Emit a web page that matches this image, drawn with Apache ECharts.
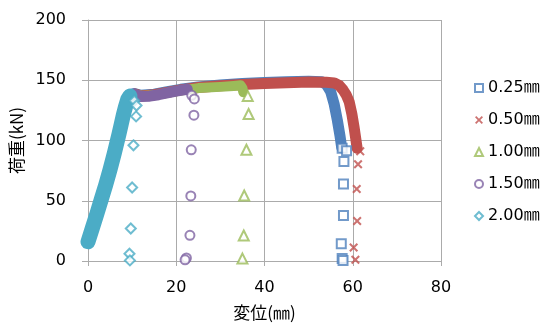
<!DOCTYPE html>
<html>
<head>
<meta charset="utf-8">
<script src="https://cdn.jsdelivr.net/npm/echarts@6/dist/echarts.min.js"></script>
<style>
  html, body { margin: 0; padding: 0; background: #fff; }
  #chart { width: 542px; height: 323px; }
</style>
</head>
<body>
<div id="chart"></div>
<script>
// Load–displacement records for five gap widths
const seriesNames = ['0.25㎜', '0.50㎜', '1.00㎜', '1.50㎜', '2.00㎜'];
const seriesColors = ['#4F81BD', '#C0504D', '#9BBB59', '#8064A2', '#4BACC6'];

// x-axis / y-axis ticks
const xTicks = [0, 20, 40, 60, 80];
const yTicks = [0, 50, 100, 150, 200];

// Densely sampled loading curves (displacement mm, load kN)
const curve025X = [0, 1, 2, 3, 4, 5, 6, 7, 7.5, 8, 8.5, 9, 9.6, 10.5, 12, 15, 18, 21, 25, 30, 35, 40, 45, 50, 53, 54, 55, 55.8, 56.5, 57.1, 57.5];
const curve025Y = [16, 27.5, 39, 51, 63, 76, 90, 105, 113, 121, 128, 134, 138, 139, 137.5, 138.5, 140.5, 142.5, 144.5, 146, 147.3, 148.2, 148.8, 149.2, 148.7, 146.5, 140.5, 130, 117, 104, 94];

const curve050X = [0.2, 1.2, 2.2, 3.2, 4.2, 5.2, 6.2, 7.2, 7.7, 8.2, 8.7, 9.2, 9.8, 10.7, 12, 15, 18, 21, 25, 30, 35, 40, 45, 50, 54, 55.8, 57, 57.8, 58.5, 59.2, 59.8, 60.3, 60.7, 61];
const curve050Y = [16, 27.5, 39, 51, 63, 76, 90, 105, 113, 121, 128, 134, 138, 138.5, 137, 138, 140, 142, 144, 145.5, 146.5, 147.3, 148, 148.5, 148.4, 147.8, 145.5, 142, 138, 132, 122, 111, 101, 93.5];

const curve100X = [0, 1, 2, 3, 4, 5, 6, 7, 7.5, 8, 8.5, 9, 9.6, 10.5, 12, 15, 18, 21, 25, 30, 33, 34.6, 35.0, 35.2];
const curve100Y = [16, 27.5, 39, 51, 63, 76, 90, 105, 113, 121, 128, 134, 137.5, 138.5, 137, 137.5, 139.5, 141.5, 143.5, 144.5, 145.3, 145.8, 143.5, 140];

const curve150X = [0, 1, 2, 3, 4, 5, 6, 7, 7.5, 8, 8.5, 9, 9.6, 10.5, 12, 14, 16, 18, 20, 22.5];
const curve150Y = [16, 27.5, 39, 51, 63, 76, 90, 105, 113, 121, 128, 134, 138, 138.5, 136.5, 136.8, 138, 139.5, 141, 142.5];

const curve200X = [0, 1, 2, 3, 4, 5, 6, 7, 7.5, 8, 8.5, 9, 9.5];
const curve200Y = [16, 27.5, 39, 51, 63, 76, 90, 105, 113, 121, 128, 134, 137];

// Sparse readings after failure
const tail025X = [57.6, 58.6, 58.0, 57.9, 57.9, 57.4, 57.6, 57.8];
const tail025Y = [93.5, 91.5, 82.5, 64, 37.7, 14.3, 2, 0.5];

const tail050X = [61.7, 61.2, 60.9, 61.0, 60.2, 60.6];
const tail050Y = [91, 80.3, 59.7, 33.2, 11.2, 1];

const tail100X = [36.2, 36.4, 35.9, 35.4, 35.3, 35.0];
const tail100Y = [137, 122, 92.3, 54.4, 21.2, 2];

const tail150X = [23.5, 24.1, 24.0, 23.4, 23.3, 23.1, 22.3, 22.0];
const tail150Y = [137.5, 134.5, 121, 92.3, 54, 21.3, 2.5, 1];

const tail200X = [10.5, 11.0, 10.9, 10.3, 10.0, 9.7, 9.4, 9.5];
const tail200Y = [133, 129, 120, 96, 61, 27, 6, 0.5];

const curves = [
  [curve025X, curve025Y], [curve050X, curve050Y], [curve100X, curve100Y],
  [curve150X, curve150Y], [curve200X, curve200Y]
];
const tails = [
  [tail025X, tail025Y], [tail050X, tail050Y], [tail100X, tail100Y],
  [tail150X, tail150Y], [tail200X, tail200Y]
];

const crossPath = 'path://M0,1.6L1.6,0L5,3.4L8.4,0L10,1.6L6.6,5L10,8.4L8.4,10L5,6.6L1.6,10L0,8.4L3.4,5Z';
const markerSymbols = ['rect', crossPath, 'triangle', 'circle', 'diamond'];
const markerSizes = [9, 9, 10, 9, 10];
const bandWidths = [11, 11, 10, 11, 15];

const zip = (xs, ys) => xs.map((x, i) => [x, ys[i]]);
const FONT = '"DejaVu Sans", "Noto Sans CJK JP", sans-serif';
const CJK_FONT = '"Noto Sans CJK JP", "DejaVu Sans", sans-serif';

const series = [];
curves.forEach(([xs, ys], i) => {
  series.push({
    name: seriesNames[i] + ' band',
    type: 'line',
    data: zip(xs, ys),
    showSymbol: false,
    symbol: 'none',
    silent: true,
    z: 2,
    lineStyle: { color: seriesColors[i], width: bandWidths[i], cap: 'round', join: 'round' }
  });
});
tails.forEach(([xs, ys], i) => {
  const isCross = i === 1;
  series.push({
    name: seriesNames[i],
    type: 'scatter',
    data: zip(xs, ys),
    symbol: markerSymbols[i],
    symbolSize: markerSizes[i],
    z: 3,
    itemStyle: isCross
      ? { color: seriesColors[i], borderWidth: 0 }
      : { color: '#ffffff', borderColor: seriesColors[i], borderWidth: 2 }
  });
});

const axisGray = '#ABABAB';
const chart = echarts.init(document.getElementById('chart'), null, { renderer: 'canvas' });
chart.setOption({
  animation: false,
  backgroundColor: '#ffffff',
  textStyle: { fontFamily: FONT },
  grid: { left: 88, right: 101, top: 20, bottom: 62, containLabel: false, outerBoundsMode: 'none' },
  xAxis: {
    type: 'value',
    min: xTicks[0], max: xTicks[xTicks.length - 1], interval: xTicks[1] - xTicks[0],
    name: '変位(㎜)', nameLocation: 'middle', nameGap: 43,
    nameTextStyle: { fontSize: 17, color: '#000', fontFamily: CJK_FONT },
    axisLine: { show: true, lineStyle: { color: axisGray, width: 1 } },
    axisTick: { show: true, inside: false, length: 5, lineStyle: { color: axisGray } },
    axisLabel: { fontSize: 16, color: '#000', margin: 19, fontFamily: FONT },
    splitLine: { show: true, lineStyle: { color: axisGray, width: 1 } }
  },
  yAxis: {
    type: 'value',
    min: yTicks[0], max: yTicks[yTicks.length - 1], interval: yTicks[1] - yTicks[0],
    name: '荷重(kN)', nameLocation: 'middle', nameGap: 56,
    nameTextStyle: { fontSize: 17, color: '#000', fontFamily: CJK_FONT },
    axisLine: { show: true, lineStyle: { color: axisGray, width: 1 } },
    axisTick: { show: true, inside: false, length: 6, lineStyle: { color: axisGray } },
    axisLabel: { fontSize: 16, color: '#000', margin: 22, fontFamily: FONT },
    splitLine: { show: true, lineStyle: { color: axisGray, width: 1 } }
  },
  legend: {
    data: seriesNames,
    orient: 'vertical',
    left: 474, top: 80, padding: 0,
    itemWidth: 8, itemHeight: 8, itemGap: 16,
    textStyle: { fontSize: 16, color: '#000', fontFamily: FONT },
    selectedMode: false
  },
  series: series
});
</script>
</body>
</html>
